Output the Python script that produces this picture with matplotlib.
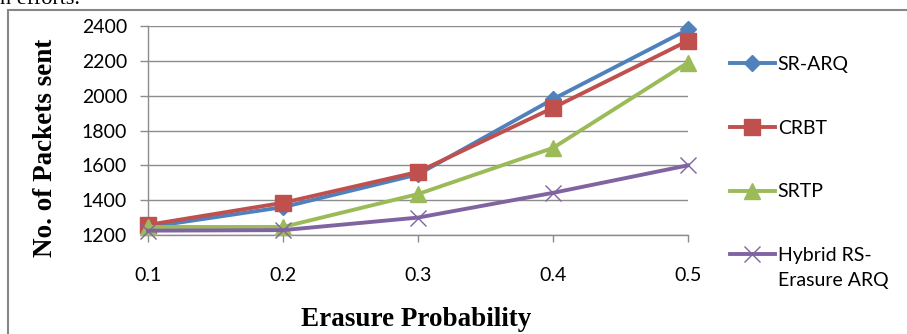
import numpy as np
import matplotlib.pyplot as plt
from matplotlib.patches import Rectangle

# dados
prob = [0.1, 0.2, 0.3, 0.4, 0.5]
sr_arq = [1245, 1360, 1548, 1980, 2380]
crbt = [1258, 1385, 1562, 1930, 2315]
srtp = [1246, 1246, 1435, 1700, 2190]
hybrid = [1225, 1228, 1300, 1442, 1600]
yticks = [1200, 1400, 1600, 1800, 2000, 2200, 2400]

W, H = 907, 334
fig = plt.figure(figsize=(W / 100, H / 100), dpi=100)

# moldura do grafico (cortada a direita e embaixo)
fig.patches.append(Rectangle((8 / W, -0.2), 1.2, 1 - 10 / H + 0.2, transform=fig.transFigure,
                             fill=False, edgecolor='#878787', linewidth=1.5))
# resto do texto do artigo no topo
fig.text(0.0, 1 - 4 / H, 'n efforts.', fontsize=16, family='Liberation Serif',
         va='baseline', ha='left')

ax = fig.add_axes([148 / W, 99 / H, 540 / W, 209 / H])

series = [
    (sr_arq, 'SR-ARQ', '#4F81BD', 'D', 8),
    (crbt, 'CRBT', '#C0504D', 's', 11),
    (srtp, 'SRTP', '#9BBB59', '^', 11),
    (hybrid, 'Hybrid RS-', '#8064A2', 'x', 12),
]
for vals, lab, cor, mk, ms in series:
    ax.plot(prob, vals, color=cor, linewidth=2.8, marker=mk, markersize=ms,
            markeredgecolor=cor, markeredgewidth=1.0,
            label=lab, clip_on=False, zorder=3)

ax.set_xlim(0.1, 0.5)
ax.set_ylim(1200, 2400)
ax.set_xticks(prob)
ax.set_xticklabels(['0.1', '0.2', '0.3', '0.4', '0.5'])
ax.set_yticks(yticks)
ax.grid(axis='y', color='#8c8c8c', linewidth=1.0)
ax.set_axisbelow(True)
for s in ['top', 'right']:
    ax.spines[s].set_visible(False)
for s in ['left', 'bottom']:
    ax.spines[s].set_color('#8c8c8c')
    ax.spines[s].set_linewidth(1.0)

ax.tick_params(axis='y', length=6, width=1.0, color='#8c8c8c', pad=9,
               labelsize=14, labelfontfamily='Lato')
ax.tick_params(axis='x', length=5, width=1.0, color='#8c8c8c', pad=18,
               labelsize=14, labelfontfamily='Lato')

fig.text(46 / W, 1 - 148 / H, 'No. of Packets sent', rotation=90, ha='center', va='center',
         fontsize=19.5, fontweight='bold', family='Liberation Serif')
fig.text(416 / W, 1 - 319 / H, 'Erasure Probability', ha='center', va='center',
         fontsize=19.5, fontweight='bold', family='Liberation Serif')

leg = ax.legend(loc='upper left', bbox_to_anchor=(730 / W, 1 - 56 / H),
                bbox_transform=fig.transFigure, frameon=False, borderpad=0,
                borderaxespad=0, handlelength=2.3, handletextpad=0.15,
                labelspacing=2.4, prop={'family': 'Lato', 'size': 14})

fig.canvas.draw()
bb = leg.get_texts()[-1].get_window_extent()
fig.text(bb.x0 / W, (bb.y0 - 8) / H, 'Erasure ARQ', ha='left', va='top',
         fontsize=14, family='Lato')

fig.savefig('out.png', dpi=100)
